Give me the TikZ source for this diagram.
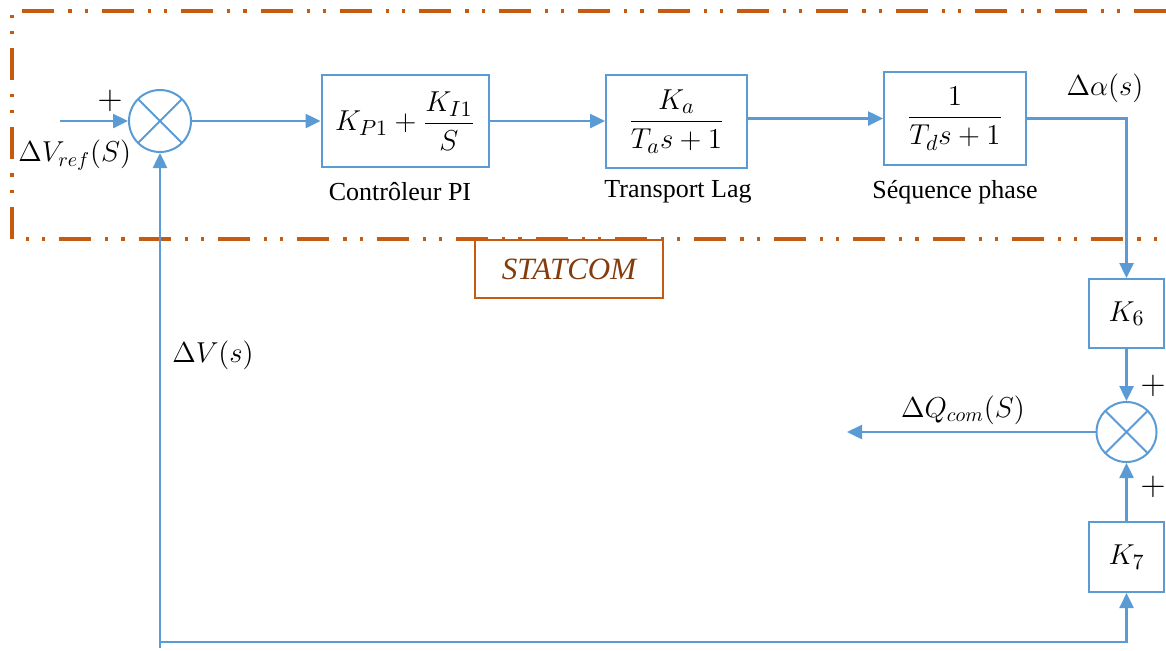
\documentclass[tikz,border=0pt]{standalone}
\usepackage{amsmath}
\usepackage{fontspec}
\setmainfont{Liberation Serif}
\newfontfamily\captionserif{Liberation Serif}
\usetikzlibrary{arrows.meta}
\definecolor{wire}{HTML}{5B9BD5}
\definecolor{frame}{HTML}{C55A11}
\definecolor{tag}{HTML}{843C0C}

\begin{document}
\begin{tikzpicture}[x=0.5pt,y=-0.5pt,
  wire/.style={draw=wire, line width=1.25pt},
  sig/.style={wire, -{Triangle[length=7.5pt,width=7pt]}},
  blk/.style={draw=wire, line width=1pt, fill=white, inner sep=0pt,
    font=\fontsize{15}{18}\selectfont},
  sumj/.style={circle, draw=wire, line width=1pt, fill=white,
    minimum size=#1, inner sep=0pt,
    path picture={\draw[wire, line width=1pt]
      (path picture bounding box.south west) -- (path picture bounding box.north east)
      (path picture bounding box.north west) -- (path picture bounding box.south east);}},
  lbl/.style={font=\captionserif\fontsize{13}{15}\selectfont, inner sep=0pt},
  mlbl/.style={font=\fontsize{14.5}{18}\selectfont, inner sep=0pt},
  sign/.style={font=\fontsize{16}{18}\selectfont, inner sep=0pt},
  frameline/.style={draw=frame, line width=1.8pt,
    dash pattern=on 16pt off 7pt on 1.6pt off 6.5pt on 1.6pt off 7pt}]

\useasboundingbox (0,0) rectangle (1166,650);

% STATCOM enclosure (open on the right)
\draw[frameline] (1166,11) -- (12,11) -- (12,239) -- (1166,239);
\node[draw=frame, line width=1pt, fill=white, minimum width=94pt, minimum height=29pt,
  inner sep=0pt, text=tag, font=\captionserif\fontsize{15.5}{18}\selectfont\itshape]
  (tag) at (569,269) {STATCOM};

% blocks
\node[sumj=31pt] (s1) at (160,121) {};
\node[blk, minimum width=83.5pt, minimum height=46pt] (pi) at (405,121)
  {$K_{P1}+\dfrac{K_{I1}}{S}$};
\node[blk, minimum width=70.5pt, minimum height=46.5pt] (tl) at (676.5,121.5)
  {$\dfrac{K_a}{T_a s+1}$};
\node[blk, minimum width=71pt, minimum height=46.5pt] (sq) at (955,118.5)
  {$\dfrac{1}{T_d s+1}$};
\node[blk, minimum width=37.5pt, minimum height=34.5pt] (k6) at (1126.5,313.5) {$K_6$};
\node[sumj=30pt] (s2) at (1126.5,432) {};
\node[blk, minimum width=37.5pt, minimum height=35pt] (k7) at (1126.5,557) {$K_7$};

% free ends
\coordinate (in) at (60,121);
\coordinate (out) at (847,432);
\coordinate (fb0) at (160,648);
\coordinate (fb1) at (160,642);
\coordinate (fb2) at (1126.5,642);

% connectors
\draw[sig] (in) -- (s1.west);
\draw[sig] (s1.east) -- (pi.west);
\draw[sig] (pi.east) -- (tl.west |- pi.east);
\draw[sig] (tl.east |- sq.west) -- (sq.west);
\draw[sig] (sq.east) -| (k6.north);
\draw[sig] (k6.south) -- (s2.north);
\draw[sig] (k7.north) -- (s2.south);
\draw[sig] (s2.west) -- (out);
\draw[sig] (fb0) -- (s1.south);
\draw[sig] (fb1) -- (fb2) -- (k7.south);

% captions
\node[lbl] (c1) at (400,192) {Contrôleur PI};
\node[lbl] (c2) at (678,192) {Transport Lag};
\node[lbl] (c3) at (955,192) {Séquence phase};

% signal names and signs
\node[sign] (p1) at (110,101) {$+$};
\node[mlbl, anchor=west] (vref) at (18,155) {$\Delta V_{ref}(S)$};
\node[mlbl] (alpha) at (1105,88) {$\Delta\alpha(s)$};
\node[mlbl] (dv) at (213,355) {$\Delta V(s)$};
\node[mlbl] (dq) at (963,410) {$\Delta Q_{com}(S)$};
\node[sign] (p2) at (1153,386) {$+$};
\node[sign] (p3) at (1153,487) {$+$};
\end{tikzpicture}
\end{document}
